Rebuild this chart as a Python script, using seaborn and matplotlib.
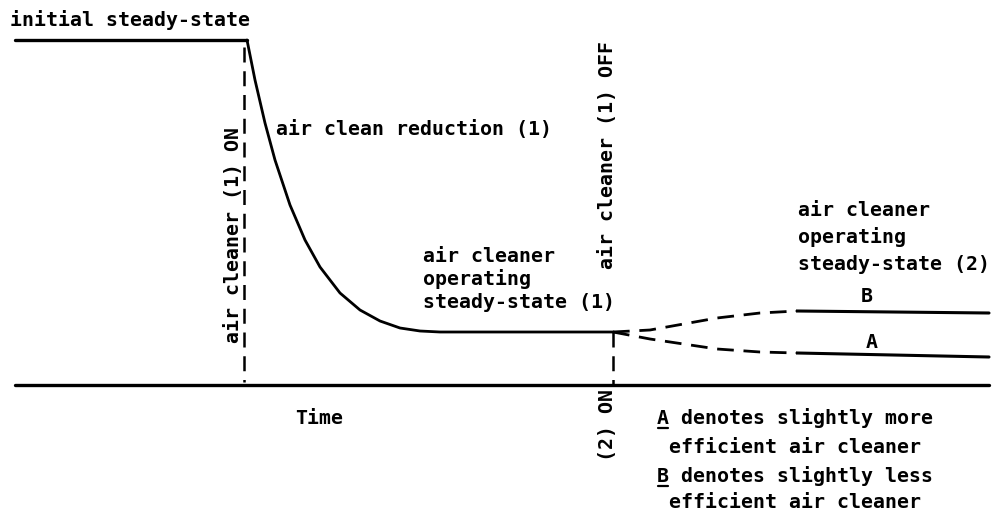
import matplotlib
matplotlib.use('Agg')
import matplotlib.pyplot as plt
from matplotlib.lines import Line2D
import seaborn as sns
import numpy as np

# time axis (arbitrary units) and concentration (arbitrary units)
t_initial = [15, 247]
c_initial = [345, 345]

t_decay = [247, 251, 255, 265, 275, 290, 305, 320, 340, 360, 380, 400, 420, 440, 500, 560, 613]
c_decay = [345, 325, 305, 262, 225, 180, 145, 118, 92, 75, 64, 57, 54, 53, 53, 53, 53]

t_B_dash = [613, 650, 717, 760, 797]
c_B_dash = [53, 55, 67, 72, 74]
t_B = [797, 989]
c_B = [74, 72]

t_A_dash = [613, 650, 717, 760, 797]
c_A_dash = [53, 46, 36, 33, 32]
t_A = [797, 989]
c_A = [32, 28]

t_base = [15, 989]
c_base = [0, 0]

t_on1 = [244, 244]
c_on1 = [338, 3]
t_off1 = [613, 613]
c_off1 = [53, 0]

sns.set_style('white')
plt.rcParams['font.family'] = ['DejaVu Sans Mono', 'DejaVu Sans']

fig = plt.figure(figsize=(10.01, 5.25), dpi=100)
ax = fig.add_axes([0, 0, 1, 1])

kw = dict(ax=ax, color='black', estimator=None, sort=False, legend=False)
sns.lineplot(x=t_initial, y=c_initial, lw=2.4, **kw)
sns.lineplot(x=t_decay, y=c_decay, lw=2.0, **kw)
sns.lineplot(x=t_B, y=c_B, lw=2.2, **kw)
sns.lineplot(x=t_A, y=c_A, lw=2.2, **kw)
sns.lineplot(x=t_base, y=c_base, lw=2.4, **kw)
dash = (0, (6, 3.5))
sns.lineplot(x=t_B_dash, y=c_B_dash, lw=2.0, linestyle=dash, **kw)
sns.lineplot(x=t_A_dash, y=c_A_dash, lw=2.0, linestyle=dash, **kw)
sns.lineplot(x=t_on1, y=c_on1, lw=1.8, linestyle=dash, **kw)
sns.lineplot(x=t_off1, y=c_off1, lw=1.8, linestyle=dash, **kw)

ax.set_xlim(0, 1001)
ax.set_ylim(385 - 525, 385)
ax.axis('off')

fs = 14.3
tk = dict(fontsize=fs, fontweight='bold', color='black')

ax.text(10, 365, 'initial steady-state', ha='left', va='center', **tk)
ax.text(276, 255, 'air clean reduction (1)', ha='left', va='center', **tk)

op1 = ['air cleaner', 'operating', 'steady-state (1)']
op1_y = [129, 106, 82]
for s, yy in zip(op1, op1_y):
    ax.text(423, yy, s, ha='left', va='center', **tk)

op2 = ['air cleaner', 'operating', 'steady-state (2)']
op2_y = [174, 148, 121]
for s, yy in zip(op2, op2_y):
    ax.text(798, yy, s, ha='left', va='center', **tk)

ax.text(867, 88, 'B', ha='center', va='center', **tk)
ax.text(872, 42, 'A', ha='center', va='center', **tk)

ax.text(234, 150, 'air cleaner (1) ON', ha='center', va='center', rotation=90, **tk)
ax.text(607, 230, 'air cleaner (1) OFF', ha='center', va='center', rotation=90, **tk)
ax.text(607, -40, '(2) ON', ha='center', va='center', rotation=90, **tk)
ax.text(319, -33, 'Time', ha='center', va='center', **tk)

legend_lines = ['A denotes slightly more', ' efficient air cleaner',
                'B denotes slightly less', ' efficient air cleaner']
legend_y = [-39, -68, -97, -123]
renderer = fig.canvas.get_renderer()
for s, yy in zip(legend_lines, legend_y):
    ax.text(657, yy, s, ha='left', va='baseline', **tk)
    if not s.startswith(' '):
        # underline the leading letter, measured from the rendered glyph
        probe = ax.text(657, yy, s[0], ha='left', va='baseline', **tk)
        bb = probe.get_window_extent(renderer)
        probe.remove()
        base = ax.transData.transform((657, yy))[1]
        fig.add_artist(Line2D([bb.x0 + 1, bb.x1 - 1], [base - 4, base - 4],
                              transform=None, color='black', lw=1.6))

fig.savefig('out.png', dpi=100)
plt.close(fig)
